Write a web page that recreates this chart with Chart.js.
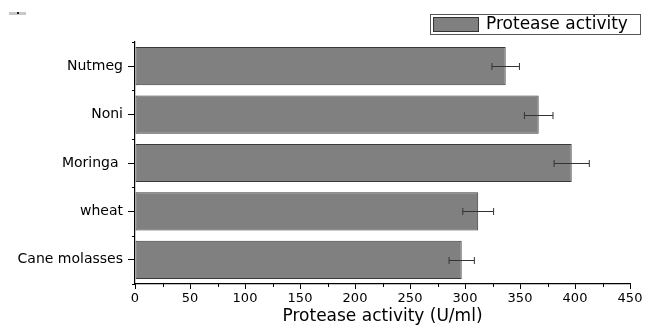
<!DOCTYPE html>
<html>
<head>
<meta charset="utf-8">
<script src="https://cdn.jsdelivr.net/npm/chart.js@4"></script>
<style>
  html, body { margin: 0; padding: 0; background: #fff; }
  #wrap { width: 646px; height: 325px; }
</style>
</head>
<body>
<div id="wrap"><canvas id="proteaseChart" width="646" height="325"></canvas></div>
<script>
  // data
  var categories = ['Nutmeg', 'Noni', 'Moringa ', 'wheat', 'Cane molasses'];
  var activity = [337, 367, 397, 312, 297];
  var activityErr = [12.5, 13, 16, 14, 11.5];
  var xTicks = [0, 50, 100, 150, 200, 250, 300, 350, 400, 450];

  var FONT = "'DejaVu Sans', sans-serif";

  // error bars, minor ticks and the boxed legend
  var extras = {
    id: 'extras',
    afterDatasetsDraw: function(chart) {
      var ctx = chart.ctx;
      var x = chart.scales.x, y = chart.scales.y;
      ctx.save();
      ctx.strokeStyle = '#333';
      ctx.lineWidth = 1;
      for (var i = 0; i < activity.length; i++) {
        var py = Math.round(y.getPixelForValue(i)) + 0.5;
        var x1 = x.getPixelForValue(activity[i] - activityErr[i]);
        var x2 = x.getPixelForValue(activity[i] + activityErr[i]);
        ctx.beginPath();
        ctx.moveTo(x1, py); ctx.lineTo(x2, py);
        ctx.moveTo(x1, py - 3.5); ctx.lineTo(x1, py + 3.5);
        ctx.moveTo(x2, py - 3.5); ctx.lineTo(x2, py + 3.5);
        ctx.stroke();
      }
      ctx.restore();
    },
    afterDraw: function(chart) {
      var ctx = chart.ctx;
      var x = chart.scales.x, y = chart.scales.y;
      var area = chart.chartArea;
      ctx.save();
      ctx.strokeStyle = '#000';
      ctx.lineWidth = 1;
      // minor x ticks
      ctx.beginPath();
      for (var v = 25; v < 450; v += 50) {
        var px = Math.round(x.getPixelForValue(v)) + 0.5;
        ctx.moveTo(px, area.bottom); ctx.lineTo(px, area.bottom + 3);
      }
      // minor y ticks at category edges
      var step = (area.bottom - area.top) / categories.length;
      for (var k = 0; k <= categories.length; k++) {
        var py = Math.round(area.top + k * step) + 0.5;
        ctx.moveTo(area.left, py); ctx.lineTo(area.left - 3, py);
      }
      ctx.stroke();

      // legend
      ctx.strokeStyle = '#555';
      ctx.strokeRect(430.5, 14.5, 210, 20);
      ctx.fillStyle = '#808080';
      ctx.fillRect(433, 17, 46, 15);
      ctx.strokeStyle = '#333';
      ctx.strokeRect(433.5, 17.5, 45, 14);
      ctx.fillStyle = '#000';
      ctx.font = '17px ' + FONT;
      ctx.textBaseline = 'middle';
      ctx.textAlign = 'left';
      ctx.fillText(chart.data.datasets[0].label, 486, 25);

      // stray mark top left
      ctx.fillStyle = '#c8c8c8';
      ctx.fillRect(9, 12, 17, 3);
      ctx.fillStyle = '#222';
      ctx.fillRect(17, 12, 2, 2);
      ctx.restore();
    }
  };

  var ctx = document.getElementById('proteaseChart').getContext('2d');
  var chart = new Chart(ctx, {
    type: 'bar',
    data: {
      labels: categories,
      datasets: [{
        label: 'Protease activity',
        data: activity,
        backgroundColor: '#808080',
        borderColor: '#3a3a3a',
        borderWidth: 1,
        borderSkipped: false,
        barPercentage: 0.79,
        categoryPercentage: 1
      }]
    },
    options: {
      indexAxis: 'y',
      responsive: false,
      animation: false,
      layout: { padding: { top: 42, right: 16, left: 0, bottom: 0 } },
      plugins: {
        legend: { display: false },
        tooltip: { enabled: false }
      },
      scales: {
        x: {
          min: 0,
          max: 450,
          afterBuildTicks: function(scale) {
            scale.ticks = xTicks.map(function(v) { return { value: v }; });
          },
          afterFit: function(scale) { scale.height = 41; },
          grid: {
            drawOnChartArea: false,
            drawTicks: true,
            tickLength: 5,
            color: '#000'
          },
          border: { display: true, color: '#000', width: 1.2 },
          ticks: {
            color: '#000',
            font: { family: FONT, size: 13 },
            padding: 2,
            maxRotation: 0
          },
          title: {
            display: true,
            text: 'Protease activity (U/ml)',
            color: '#000',
            font: { family: FONT, size: 17 },
            padding: { top: 0, bottom: -2 }
          }
        },
        y: {
          afterFit: function(scale) { scale.width = 135; },
          grid: {
            offset: false,
            drawOnChartArea: false,
            drawTicks: true,
            tickLength: 7,
            color: '#000'
          },
          border: { display: true, color: '#000', width: 1.2 },
          ticks: {
            color: '#000',
            font: { family: FONT, size: 14 },
            padding: 5
          }
        }
      }
    },
    plugins: [extras]
  });
</script>
</body>
</html>
